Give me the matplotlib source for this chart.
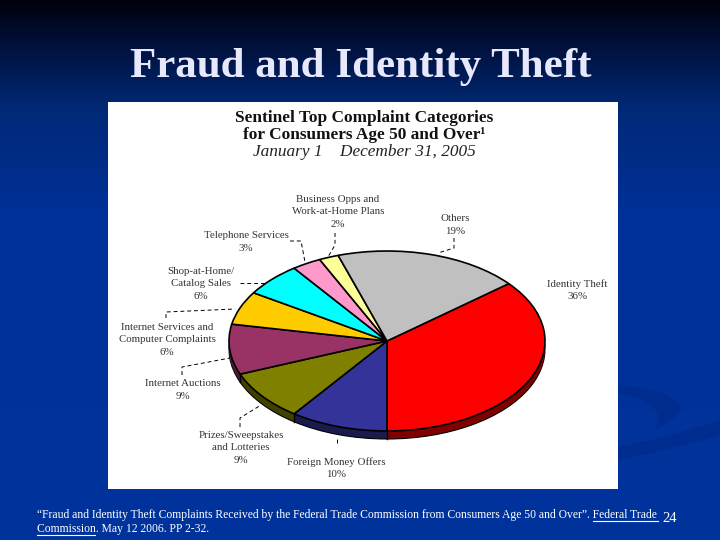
# -*- coding: utf-8 -*-
import numpy as np
import matplotlib
matplotlib.use('Agg')
import matplotlib.pyplot as plt
from matplotlib.colors import LinearSegmentedColormap
from matplotlib.patches import PathPatch
from matplotlib.path import Path

plt.rcParams['font.family'] = ['Liberation Serif', 'DejaVu Serif']

categories = ['Identity Theft', 'Foreign Money Offers', 'Prizes/Sweepstakes and Lotteries',
              'Internet Auctions', 'Internet Services and Computer Complaints',
              'Shop-at-Home/Catalog Sales', 'Telephone Services',
              'Business Opps and Work-at-Home Plans', 'Others']
values = [36, 10, 9, 9, 6, 6, 3, 2, 19]
colors = ['#ff0000', '#333399', '#808000', '#993366', '#ffcc00',
          '#00ffff', '#ff99cc', '#ffff99', '#c0c0c0']
side_colors = ['#800000', '#1a1a4d', '#404000', '#4d1a33', '#806600',
               '#008080', '#804d66', '#80804d', '#606060']

W, H = 720, 540
CX, CY = 387, 341
RX, RY = 158, 90
DEPTH = 8

fig = plt.figure(figsize=(7.2, 5.4), dpi=100)

# 全面のオーバーレイ (ピクセル座標)
bg = fig.add_axes([0, 0, 1, 1])
bg.set_xlim(0, W)
bg.set_ylim(H, 0)
bg.axis('off')

cmap = LinearSegmentedColormap.from_list('slide', [
    (0.00, (0.0, 0.0, 0.05)),
    (0.10, (0.0, 0.08, 0.27)),
    (0.20, (0.0, 0.16, 0.46)),
    (0.40, (0.0, 0.19, 0.60)),
    (1.00, (0.0, 0.20, 0.61))])
grad = np.linspace(0, 1, 256).reshape(-1, 1)
bg.imshow(grad, cmap=cmap, extent=[0, W, H, 0], aspect='auto', zorder=0)

# 右下の飾り
swoosh = '#002c90'
C3, C4 = Path.CURVE3, Path.CURVE4
band = Path([(618, 447), (670, 437), (720, 420), (720, 435), (670, 450), (618, 460), (618, 447)],
            [Path.MOVETO, C3, C3, Path.LINETO, C3, C3, Path.CLOSEPOLY])
arc = Path([(618, 385), (660, 388), (685, 400), (680, 412), (672, 420), (655, 430),
            (664, 415), (655, 398), (618, 394), (618, 385)],
           [Path.MOVETO, C4, C4, C4, C3, C3, C4, C4, C4, Path.CLOSEPOLY])
bg.add_patch(PathPatch(band, facecolor=swoosh, edgecolor='none', zorder=1))
bg.add_patch(PathPatch(arc, facecolor=swoosh, edgecolor='none', zorder=1))

bg.fill_between([108, 618], 102, 489, color='white', lw=0, zorder=2)

bg.text(361, 67, 'Fraud and Identity Theft', ha='center', va='center', fontsize=31,
        fontweight='bold', color='#e8e8fc', zorder=3)

bg.text(364, 118, 'Sentinel Top Complaint Categories', ha='center', va='center',
        fontsize=12.4, fontweight='bold', color='#111111', zorder=3)
bg.text(364, 135, 'for Consumers Age 50 and Over\u00b9', ha='center', va='center',
        fontsize=12.4, fontweight='bold', color='#111111', zorder=3)
bg.text(364, 152, 'January 1    December 31, 2005', ha='center', va='center',
        fontsize=12.4, fontstyle='italic', color='#222222', zorder=3)

# ラベル
labels = [
    ('Identity Theft\n36%', 577, 290),
    ('Foreign Money Offers\n10%', 336, 468),
    ('Prizes/Sweepstakes\nand Lotteries\n9%', 241, 448),
    ('Internet Auctions\n9%', 183, 390),
    ('Internet Services and\nComputer Complaints\n6%', 167, 340),
    ('Shop-at-Home/\nCatalog Sales\n6%', 201, 284),
    ('Telephone Services\n3%', 246, 242),
    ('Business Opps and\nWork-at-Home Plans\n2%', 338, 212),
    ('Others\n19%', 455, 225),
]
for text, x, y in labels:
    bg.text(x, y, text, ha='center', va='center', fontsize=7.8, color='#333333',
            linespacing=1.5, zorder=3)

# 引き出し線
leaders = [
    ([290, 301, 305], [241, 241, 262]),
    ([335, 335, 328], [233, 245, 257]),
    ([240, 265], [283, 283]),
    ([166, 166, 235], [318, 312, 309]),
    ([182, 182, 230], [375, 367, 358]),
    ([240, 240, 261], [427, 418, 405]),
    ([337, 337], [443, 438]),
    ([454, 454, 438], [238, 248, 253]),
]
for xs, ys in leaders:
    bg.plot(xs, ys, color='black', lw=0.7, ls=(0, (4, 3)), zorder=3)

# 脚注
bg.text(37, 515, '\u201cFraud and Identity Theft Complaints Received by the Federal Trade '
        'Commission from Consumers Age 50 and Over\u201d. Federal Trade',
        ha='left', va='center', fontsize=8.4, color='white', zorder=3)
bg.text(37, 529, 'Commission. May 12 2006. PP 2-32.', ha='left', va='center',
        fontsize=8.4, color='white', zorder=3)
bg.plot([593, 658], [521, 521], color='white', lw=0.8, zorder=3)
bg.plot([37, 95], [535, 535], color='white', lw=0.8, zorder=3)
bg.text(670, 518, '24', ha='center', va='center', fontsize=10.5, color='white', zorder=3)

# 円グラフ (楕円に潰す)
ax = fig.add_axes([(CX - 1.25 * RX) / W, 1 - (CY + 1.25 * RY) / H,
                   2.5 * RX / W, 2.5 * RY / H])
ax.patch.set_visible(False)
start = 39.6
shift = DEPTH / RY

# 側面: 下にずらしたパイを重ねる
for i in range(DEPTH, 0, -1):
    edge = 'black' if i == DEPTH else 'none'
    ax.pie(values, colors=side_colors, startangle=start, counterclock=False,
           center=(0, -i / RY), wedgeprops=dict(edgecolor=edge, linewidth=0.8))

# 側面の区切り線
angles = np.radians(start - 3.6 * np.cumsum(values))
for a in angles:
    if np.sin(a) < 0:
        ax.plot([np.cos(a)] * 2, [np.sin(a), np.sin(a) - shift], color='black', lw=1.0)

ax.pie(values, colors=colors, startangle=start, counterclock=False,
       wedgeprops=dict(edgecolor='black', linewidth=1.2))
ax.set_aspect('auto')
ax.set_xlim(-1.25, 1.25)
ax.set_ylim(-1.25, 1.25)

fig.savefig('out.png', dpi=100)
